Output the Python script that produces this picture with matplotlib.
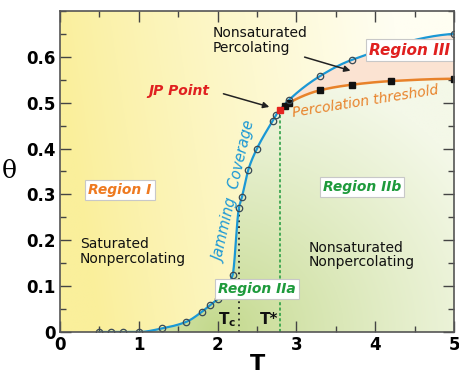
import numpy as np
import matplotlib
matplotlib.use('Agg')
import matplotlib.pyplot as plt
from matplotlib.patches import Polygon
from matplotlib.ticker import MultipleLocator

# ---------------- data ----------------
jam_T = [0.5, 0.65, 0.8, 1.0, 1.3, 1.6, 1.8, 1.9, 2.0, 2.19, 2.27, 2.31,
         2.39, 2.5, 2.7, 2.74, 2.9, 3.3, 3.7, 5.0]
jam_theta = [0.0, 0.0, 0.0, 0.0, 0.008, 0.022, 0.044, 0.058, 0.072, 0.124,
             0.27, 0.295, 0.354, 0.40, 0.461, 0.473, 0.505, 0.558, 0.593, 0.650]
perc_T = [2.85, 2.9, 3.3, 3.7, 4.2, 5.0]
perc_theta = [0.493, 0.499, 0.527, 0.539, 0.547, 0.552]
jp_T, jp_theta = 2.79, 0.484
Tc, Tc_theta = 2.27, 0.27
x_ticks = [0, 1, 2, 3, 4, 5]
y_ticks = [0, 0.1, 0.2, 0.3, 0.4, 0.5, 0.6]
y_ticklabels = ['0', '0.1', '0.2', '0.3', '0.4', '0.5', '0.6']


def pchip(x, y, n=40):
    x = np.asarray(x, float); y = np.asarray(y, float)
    h = np.diff(x); d = np.diff(y) / h
    m = np.zeros_like(x)
    for k in range(1, len(x) - 1):
        if d[k - 1] * d[k] <= 0:
            m[k] = 0.0
        else:
            w1 = 2 * h[k] + h[k - 1]; w2 = h[k] + 2 * h[k - 1]
            m[k] = (w1 + w2) / (w1 / d[k - 1] + w2 / d[k])
    def endslope(h0, h1, d0, d1):
        s = ((2 * h0 + h1) * d0 - h0 * d1) / (h0 + h1)
        if np.sign(s) != np.sign(d0):
            s = 0.0
        return s
    if len(x) > 2:
        m[0] = endslope(h[0], h[1], d[0], d[1])
        m[-1] = endslope(h[-1], h[-2], d[-1], d[-2])
    else:
        m[:] = d[0]
    xs, ys = [], []
    for k in range(len(x) - 1):
        t = np.linspace(0, 1, n, endpoint=False)
        h00 = 2 * t**3 - 3 * t**2 + 1; h10 = t**3 - 2 * t**2 + t
        h01 = -2 * t**3 + 3 * t**2; h11 = t**3 - t**2
        xs.append(x[k] + t * h[k])
        ys.append(h00 * y[k] + h10 * h[k] * m[k] + h01 * y[k + 1] + h11 * h[k] * m[k + 1])
    xs.append([x[-1]]); ys.append([y[-1]])
    return np.concatenate(xs), np.concatenate(ys)


fig = plt.figure(figsize=(4.6, 3.76), dpi=100)
ax = fig.add_axes([0.1304, 0.117, 0.8566, 0.854])
ax.set_xlim(0, 5)
ax.set_ylim(0, 0.7)

# smooth curves
bT = [t for t in jam_T if t < jp_T] + [jp_T] + [t for t in jam_T if t > jp_T]
bY = [v for t, v in zip(jam_T, jam_theta) if t < jp_T] + [jp_theta] + \
     [v for t, v in zip(jam_T, jam_theta) if t > jp_T]
bx, by = pchip(bT, bY)
ox, oy = pchip([jp_T] + perc_T, [jp_theta] + perc_theta)

# background gradients
nx, ny = 300, 200
gx, gy = np.meshgrid(np.linspace(0, 5, nx), np.linspace(0, 0.7, ny))
yel0 = np.array([250, 239, 155]) / 255
yel1 = np.array([255, 254, 242]) / 255
s = np.clip((gx - 0.2) / 4.3 + (gy - 0.35) * 0.2, 0, 1) ** 0.9
yimg = yel0 * (1 - s[..., None]) + yel1 * s[..., None]
ax.imshow(yimg, extent=[0, 5, 0, 0.7], origin='lower', aspect='auto', zorder=0)

gr0 = np.array([194, 216, 138]) / 255
gr1 = np.array([244, 248, 232]) / 255
s2 = np.clip(np.sqrt(((gx - 2.0) / 3.8) ** 2 + (gy / 0.6) ** 2), 0, 1) ** 0.8
gimg = gr0 * (1 - s2[..., None]) + gr1 * s2[..., None]
gim = ax.imshow(gimg, extent=[0, 5, 0, 0.7], origin='lower', aspect='auto', zorder=0.5)
mask_b = bx <= jp_T
green_verts = list(zip(bx[mask_b], by[mask_b])) + list(zip(ox, oy)) + [(5, 0), (bx[0], 0)]
gpoly = Polygon(green_verts, closed=True, facecolor='none', edgecolor='none', transform=ax.transData)
ax.add_patch(gpoly)
gim.set_clip_path(gpoly)

mask_a = bx >= jp_T
peach_verts = list(zip(bx[mask_a], by[mask_a])) + list(zip(ox[::-1], oy[::-1]))
ax.add_patch(Polygon(peach_verts, closed=True, facecolor='#fbe3d2', edgecolor='none', zorder=0.6))

# vertical lines
ax.plot([Tc, Tc], [0, Tc_theta], ls=(0, (1, 2.2)), color='#222222', lw=1.3, zorder=2)
ax.plot([jp_T, jp_T], [0, jp_theta], ls=(0, (2, 1.5)), color='#1e9a3c', lw=1.1, zorder=2)

# curves
ax.plot(ox, oy, color='#e8822a', lw=1.8, zorder=3)
ax.plot(perc_T, perc_theta, ls='none', marker='s', ms=3.8, color='#111111', zorder=4)
ax.plot(bx, by, color='#1b98d5', lw=1.6, zorder=3)
ax.plot(jam_T, jam_theta, ls='none', marker='o', ms=4.6, mfc='none', mec='#3a4a55', mew=0.9, zorder=4)
ax.plot([jp_T], [jp_theta], ls='none', marker='s', ms=5, color='#e52420', zorder=5)

# texts
tk = dict(fontfamily='DejaVu Sans')
ax.text(1.94, 0.635, 'Nonsaturated\nPercolating', fontsize=10, color='#111111',
        ha='left', va='center', linespacing=1.05, **tk)
ax.text(1.51, 0.526, 'JP Point', fontsize=10, color='#e02020', style='italic',
        weight='bold', ha='center', va='center', **tk)
ax.annotate('', xy=(2.69, 0.489), xytext=(2.04, 0.521),
            arrowprops=dict(arrowstyle='-|>', color='#222222', lw=1.1, mutation_scale=9), zorder=6)
ax.annotate('', xy=(3.72, 0.568), xytext=(3.07, 0.601),
            arrowprops=dict(arrowstyle='-|>', color='#222222', lw=1.1, mutation_scale=9), zorder=6)
box = dict(boxstyle='square,pad=0.22', facecolor='white', edgecolor='#c8c8c8', lw=0.8)
ax.text(4.44, 0.614, 'Region III', fontsize=11, color='#e02020', style='italic',
        weight='bold', ha='center', va='center', bbox=box, zorder=7, **tk)
ax.text(3.87, 0.503, 'Percolation threshold', fontsize=10, color='#e8822a', style='italic',
        ha='center', va='center', rotation=9, rotation_mode='anchor', zorder=7, **tk)
ax.text(2.23, 0.305, 'Jamming  Coverage', fontsize=10.5, color='#1b98d5', style='italic',
        ha='center', va='center', rotation=77, rotation_mode='anchor', zorder=7, **tk)
ax.text(0.76, 0.31, 'Region I', fontsize=10, color='#ee7a20', style='italic',
        weight='bold', ha='center', va='center', bbox=box, zorder=7, **tk)
ax.text(0.25, 0.175, 'Saturated\nNonpercolating', fontsize=10, color='#111111',
        ha='left', va='center', linespacing=1.05, **tk)
ax.text(3.83, 0.317, 'Region IIb', fontsize=10, color='#1e9a3c', style='italic',
        weight='bold', ha='center', va='center', bbox=box, zorder=7, **tk)
ax.text(3.16, 0.168, 'Nonsaturated\nNonpercolating', fontsize=10, color='#111111',
        ha='left', va='center', linespacing=1.05, **tk)
ax.text(2.5, 0.094, 'Region IIa', fontsize=10, color='#1e9a3c', style='italic',
        weight='bold', ha='center', va='center', bbox=box, zorder=7, **tk)
ax.text(2.24, 0.028, r'T$_\mathbf{c}$', fontsize=11, weight='bold', color='#111111',
        ha='right', va='center', zorder=7, **tk)
ax.text(2.77, 0.028, 'T*', fontsize=11, weight='bold', color='#111111',
        ha='right', va='center', zorder=7, **tk)

# axes styling
ax.set_xticks(x_ticks)
ax.set_yticks(y_ticks)
ax.set_yticklabels(y_ticklabels)
ax.xaxis.set_minor_locator(MultipleLocator(0.5))
ax.yaxis.set_minor_locator(MultipleLocator(0.05))
ax.tick_params(which='both', direction='in', top=True, right=True, color='#444444', width=1.0)
ax.tick_params(which='major', length=8, labelsize=12, pad=3)
ax.tick_params(which='minor', length=4)
for lab in ax.get_xticklabels() + ax.get_yticklabels():
    lab.set_fontweight('bold')
for sp in ax.spines.values():
    sp.set_color('#555555'); sp.set_linewidth(1.2); sp.set_zorder(8)
ax.set_xlabel('T', fontsize=16, fontweight='bold', labelpad=0)
ax.set_ylabel('θ', fontsize=18, family='DejaVu Serif', rotation=0, labelpad=12, va='center')

fig.savefig('out.png', dpi=100)
